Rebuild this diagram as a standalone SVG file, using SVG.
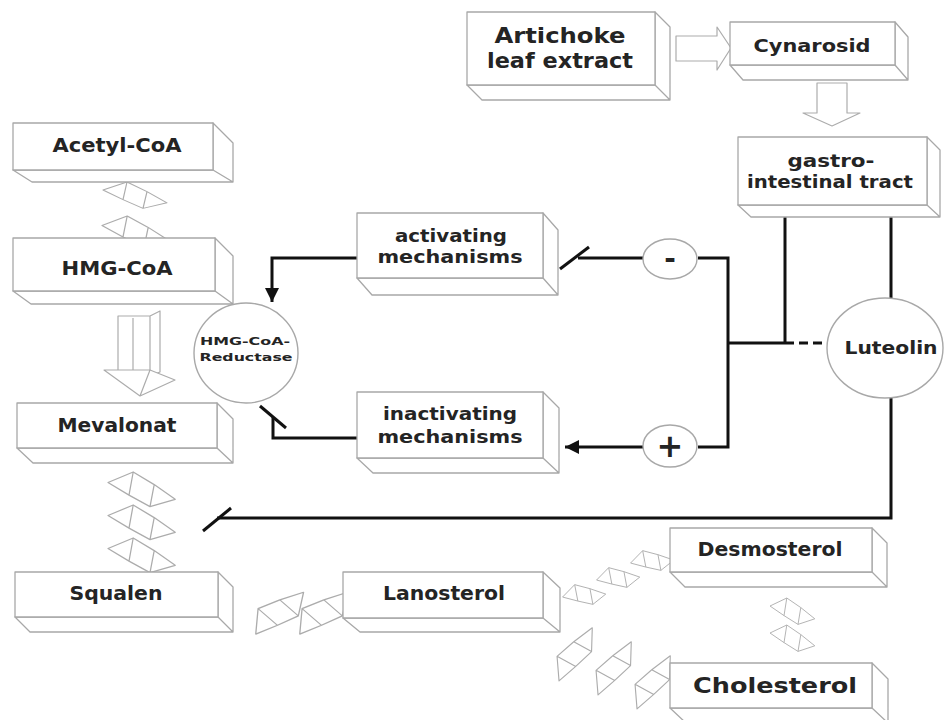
<svg xmlns="http://www.w3.org/2000/svg" xmlns:xlink="http://www.w3.org/1999/xlink" width="944" height="720" viewBox="0 0 944 720">
  <style>
    .box { fill: #ffffff; stroke: #a8a8a8; stroke-width: 1.3; stroke-linejoin: round; }
    .deco { fill: #ffffff; stroke: #acacac; stroke-width: 1.2; stroke-linejoin: round; }
    .ring { fill: #ffffff; stroke: #a8a8a8; stroke-width: 1.4; }
    .lbl { font-family: "DejaVu Sans", "Liberation Sans", Arial, sans-serif; font-weight: bold; fill: #242424; text-anchor: middle; }
    .wire { fill: none; stroke: #111111; stroke-width: 3; stroke-linejoin: miter; }
    .dash { fill: none; stroke: #111111; stroke-width: 3; stroke-dasharray: 9 5; }
  </style>
  <defs>
    <marker id="head" markerUnits="userSpaceOnUse" markerWidth="16" markerHeight="16" refX="14" refY="7" orient="auto">
      <path d="M0,0 L14,7 L0,14 Z" fill="#111111"/>
    </marker>
    <!-- small folded step arrow used between pathway stages -->
    <g id="fold">
      <path d="M0,10 L24,0 L44,12 L64,26 L40,33 L20,22 Z M24,0 L20,22 M44,12 L40,33"/>
    </g>
  </defs>

  <rect width="944" height="720" fill="#ffffff"/>

  <!-- decorative step arrows (light grey) -->
  <g id="steps" class="deco">
    <!-- Artichoke -> Cynarosid -->
    <path d="M676,36 L717,36 L717,27 L731,48 L717,70 L717,61 L676,61 Z"/>
    <!-- Cynarosid -> gastro-intestinal tract -->
    <path d="M817,83 L847,83 L847,113 L860,113 L832,126 L803,113 L817,113 Z"/>
    <!-- HMG-CoA -> Mevalonat (3D block arrow) -->
    <path d="M118,316 L150,316 L160,311 L160,372 L150,376 L118,376 Z M150,316 L150,376 M133,318 L133,372"/>
    <path d="M104,370 L150,370 L175,380 L140,396 Z M150,370 L140,396"/>
    <!-- Acetyl-CoA -> HMG-CoA -->
    <use xlink:href="#fold" transform="translate(103,182) scale(1,0.8)"/>
    <use xlink:href="#fold" transform="translate(102,216) scale(1.05,0.95)"/>
    <!-- Mevalonat -> Squalen -->
    <use xlink:href="#fold" transform="translate(108,472) scale(1.05,1.05)"/>
    <use xlink:href="#fold" transform="translate(108,505) scale(1.05,1.05)"/>
    <use xlink:href="#fold" transform="translate(108,538) scale(1.05,1.05)"/>
    <!-- Squalen -> Lanosterol -->
    <use xlink:href="#fold" transform="translate(246,628) rotate(-58) scale(0.95,1.15)"/>
    <use xlink:href="#fold" transform="translate(290,628) rotate(-58) scale(0.95,1.15)"/>
    <!-- Lanosterol -> Desmosterol -->
    <use xlink:href="#fold" transform="translate(560,590) rotate(-20) scale(0.65,0.75)"/>
    <use xlink:href="#fold" transform="translate(594,573) rotate(-20) scale(0.65,0.75)"/>
    <use xlink:href="#fold" transform="translate(628,556) rotate(-20) scale(0.65,0.75)"/>
    <!-- Lanosterol -> Cholesterol -->
    <use xlink:href="#fold" transform="translate(550,678) rotate(-72) scale(0.95,0.95)"/>
    <use xlink:href="#fold" transform="translate(589,692) rotate(-72) scale(0.95,0.95)"/>
    <use xlink:href="#fold" transform="translate(628,706) rotate(-72) scale(0.95,0.95)"/>
    <!-- Desmosterol -> Cholesterol -->
    <use xlink:href="#fold" transform="translate(770,598) scale(0.7,0.8)"/>
    <use xlink:href="#fold" transform="translate(770,625) scale(0.7,0.8)"/>
  </g>

  <!-- connectors -->
  <g id="connectors">
    <line class="wire" x1="785" y1="217" x2="785" y2="343"/>
    <line class="wire" x1="891" y1="217" x2="891" y2="298"/>
    <polyline class="wire" points="891,398 891,518 217,518"/>
    <line class="wire" x1="203" y1="531" x2="231" y2="508"/>
    <line class="wire" x1="728" y1="343" x2="785" y2="343"/>
    <line class="dash" x1="785" y1="343" x2="828" y2="343"/>
    <polyline class="wire" points="698,258 728,258 728,447 698,447"/>
    <line class="wire" x1="643" y1="258" x2="578" y2="258"/>
    <line class="wire" x1="560" y1="269" x2="589" y2="247"/>
    <line class="wire" x1="643" y1="447" x2="565" y2="447" marker-end="url(#head)"/>
    <polyline class="wire" points="357,258 272,258 272,302" marker-end="url(#head)"/>
    <polyline class="wire" points="357,438 273,438 273,417"/>
    <line class="wire" x1="260" y1="406" x2="286" y2="428"/>
  </g>

  <!-- nodes: 3D boxes -->
  <g id="artichoke">
    <path class="box" d="M655,12 L670,27 L670,100 L655,85 Z M467,85 L482,100 L670,100 L655,85 Z"/>
    <rect class="box" x="467" y="12" width="188" height="73"/>
    <text class="lbl" x="560" y="43" font-size="21" textLength="131" lengthAdjust="spacingAndGlyphs">Artichoke</text>
    <text class="lbl" x="560" y="68" font-size="21" textLength="146" lengthAdjust="spacingAndGlyphs">leaf extract</text>
  </g>
  <g id="cynarosid">
    <path class="box" d="M895,22 L908,37 L908,80 L895,65 Z M730,65 L743,80 L908,80 L895,65 Z"/>
    <rect class="box" x="730" y="22" width="165" height="43"/>
    <text class="lbl" x="812" y="52" font-size="18" textLength="117" lengthAdjust="spacingAndGlyphs">Cynarosid</text>
  </g>
  <g id="gastro">
    <path class="box" d="M927,137 L940,150 L940,217 L927,205 Z M738,205 L751,217 L940,217 L927,205 Z"/>
    <rect class="box" x="738" y="137" width="189" height="68"/>
    <text class="lbl" x="831" y="167" font-size="18" textLength="87" lengthAdjust="spacingAndGlyphs">gastro-</text>
    <text class="lbl" x="830" y="188" font-size="18" textLength="166" lengthAdjust="spacingAndGlyphs">intestinal tract</text>
  </g>
  <g id="acetyl-coa">
    <path class="box" d="M213,123 L233,143 L233,182 L213,170 Z M13,170 L32,182 L233,182 L213,170 Z"/>
    <rect class="box" x="13" y="123" width="200" height="47"/>
    <text class="lbl" x="117" y="152" font-size="19" textLength="129" lengthAdjust="spacingAndGlyphs">Acetyl-CoA</text>
  </g>
  <g id="hmg-coa">
    <path class="box" d="M215,238 L233,256 L233,304 L215,291 Z M13,291 L31,304 L233,304 L215,291 Z"/>
    <rect class="box" x="13" y="238" width="202" height="53"/>
    <text class="lbl" x="117" y="275" font-size="19" textLength="111" lengthAdjust="spacingAndGlyphs">HMG-CoA</text>
  </g>
  <g id="mevalonat">
    <path class="box" d="M217,403 L233,419 L233,463 L217,448 Z M17,448 L33,463 L233,463 L217,448 Z"/>
    <rect class="box" x="17" y="403" width="200" height="45"/>
    <text class="lbl" x="117" y="432" font-size="19" textLength="119" lengthAdjust="spacingAndGlyphs">Mevalonat</text>
  </g>
  <g id="squalen">
    <path class="box" d="M218,572 L233,587 L233,632 L218,617 Z M15,617 L30,632 L233,632 L218,617 Z"/>
    <rect class="box" x="15" y="572" width="203" height="45"/>
    <text class="lbl" x="116" y="600" font-size="19" textLength="93" lengthAdjust="spacingAndGlyphs">Squalen</text>
  </g>
  <g id="lanosterol">
    <path class="box" d="M543,572 L560,588 L560,632 L543,618 Z M343,618 L360,632 L560,632 L543,618 Z"/>
    <rect class="box" x="343" y="572" width="200" height="46"/>
    <text class="lbl" x="444" y="600" font-size="19" textLength="122" lengthAdjust="spacingAndGlyphs">Lanosterol</text>
  </g>
  <g id="desmosterol">
    <path class="box" d="M872,528 L887,543 L887,587 L872,572 Z M670,572 L685,587 L887,587 L872,572 Z"/>
    <rect class="box" x="670" y="528" width="202" height="44"/>
    <text class="lbl" x="770" y="556" font-size="19" textLength="145" lengthAdjust="spacingAndGlyphs">Desmosterol</text>
  </g>
  <g id="cholesterol">
    <path class="box" d="M872,663 L888,679 L888,723 L872,708 Z M670,708 L686,723 L888,723 L872,708 Z"/>
    <rect class="box" x="670" y="663" width="202" height="45"/>
    <text class="lbl" x="775" y="693" font-size="22" textLength="164" lengthAdjust="spacingAndGlyphs">Cholesterol</text>
  </g>
  <g id="activating">
    <path class="box" d="M543,213 L558,230 L558,295 L543,278 Z M357,278 L372,295 L558,295 L543,278 Z"/>
    <rect class="box" x="357" y="213" width="186" height="65"/>
    <text class="lbl" x="451" y="242" font-size="18" textLength="112" lengthAdjust="spacingAndGlyphs">activating</text>
    <text class="lbl" x="450" y="263" font-size="18" textLength="145" lengthAdjust="spacingAndGlyphs">mechanisms</text>
  </g>
  <g id="inactivating">
    <path class="box" d="M543,392 L559,408 L559,473 L543,458 Z M357,458 L373,473 L559,473 L543,458 Z"/>
    <rect class="box" x="357" y="392" width="186" height="66"/>
    <text class="lbl" x="450" y="420" font-size="18" textLength="134" lengthAdjust="spacingAndGlyphs">inactivating</text>
    <text class="lbl" x="450" y="443" font-size="18" textLength="145" lengthAdjust="spacingAndGlyphs">mechanisms</text>
  </g>

  <!-- nodes: round -->
  <g id="reductase">
    <ellipse class="ring" cx="246" cy="353" rx="52" ry="50"/>
    <text class="lbl" x="245" y="345" font-size="11" textLength="90" lengthAdjust="spacingAndGlyphs">HMG-CoA-</text>
    <text class="lbl" x="246" y="361" font-size="11" textLength="93" lengthAdjust="spacingAndGlyphs">Reductase</text>
  </g>
  <g id="luteolin">
    <ellipse class="ring" cx="885" cy="348" rx="58" ry="50"/>
    <text class="lbl" x="891" y="354" font-size="17" textLength="93" lengthAdjust="spacingAndGlyphs">Luteolin</text>
  </g>
  <g id="minus">
    <ellipse class="ring" cx="670" cy="259" rx="27" ry="20"/>
    <text class="lbl" x="670" y="268" font-size="28">-</text>
  </g>
  <g id="plus">
    <ellipse class="ring" cx="670" cy="446" rx="27" ry="21"/>
    <text class="lbl" x="670" y="457" font-size="32">+</text>
  </g>
</svg>
